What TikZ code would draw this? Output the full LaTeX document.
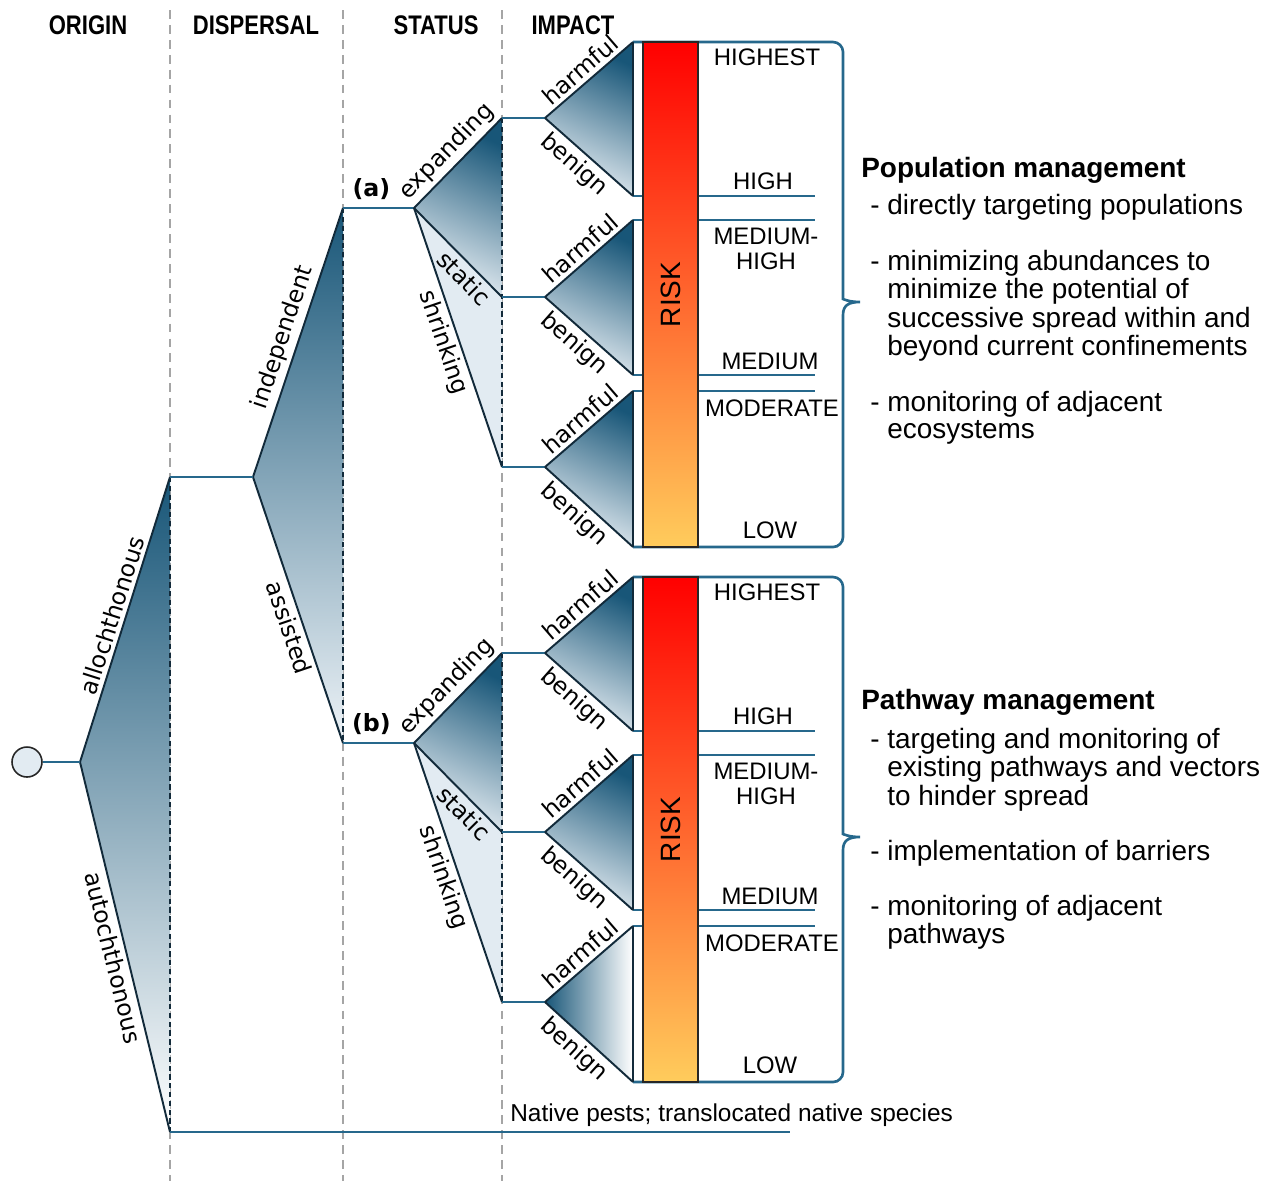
\documentclass[tikz,border=0pt]{standalone}
\usepackage{fontspec}
\setmainfont{Liberation Sans}
\newfontfamily\branchfont{DejaVu Sans}
\newfontfamily\headfont[FakeStretch=0.82]{Liberation Sans}
\usepackage{tikz}
\definecolor{linkblue}{RGB}{38,104,140}
\definecolor{edgenavy}{RGB}{18,42,58}
\definecolor{deepblue}{RGB}{24,86,120}
\definecolor{paleblue}{RGB}{226,235,242}
\definecolor{guidegray}{RGB}{165,165,165}
\definecolor{riskred}{RGB}{255,0,0}
\definecolor{riskorange}{RGB}{255,112,58}
\definecolor{riskyellow}{RGB}{255,204,92}

\begin{document}
\begin{tikzpicture}[
  x=0.02cm, y=-0.02cm,
  every node/.style={inner sep=0pt},
  head_style/.style={font=\headfont\fontsize{15.3}{18}\selectfont\bfseries},
  guide/.style={draw=guidegray, line width=1.2pt, dash pattern=on 5pt off 3.5pt},
  link/.style={draw=linkblue, line width=1.5pt},
  edge/.style={draw=edgenavy, line width=1.1pt},
  cut/.style={draw=edgenavy, line width=0.8pt, dash pattern=on 3pt off 2pt},
  branch_up/.style={sloped, above, inner sep=2pt, font=\branchfont\fontsize{13.4}{16}\selectfont},
  branch_down/.style={sloped, below, inner sep=2pt, font=\branchfont\fontsize{13.4}{16}\selectfont},
  deep_fill/.style={top color=deepblue, bottom color=paleblue!70!white, shading angle=-25},
  flat_fill/.style={left color=deepblue, right color=white},
  risk_bar/.style={rectangle, draw=black!85, line width=0.7pt, minimum width=1.1cm, minimum height=10.1cm, top color=riskred, middle color=riskorange, bottom color=riskyellow},
  risk_label/.style={font=\fontsize{13.6}{14.2}\selectfont, anchor=base},
  tag_style/.style={above, inner sep=4pt, font=\branchfont\fontsize{13.5}{15}\selectfont\bfseries},
  note_head/.style={font=\fontsize{15.9}{16}\selectfont\bfseries, anchor=base west},
  note_item/.style={font=\fontsize{15.9}{15.9}\selectfont, anchor=base west}
]
\useasboundingbox (0,0) rectangle (1270,1181);

% Column guides
\foreach \gx in {170,343,502}
  \draw[guide] (\gx,10) -- (\gx,1181);

% Column heads
\node[head_style] (h_origin) at (88,25) {ORIGIN};
\node[head_style] (h_dispersal) at (256,25) {DISPERSAL};
\node[head_style] (h_status) at (436,25) {STATUS};
\node[head_style] (h_impact) at (573,25) {IMPACT};

% Origin
\node[circle, draw=black!85, line width=0.9pt, fill=paleblue, minimum size=0.6cm] (root) at (27,762) {};
\coordinate (o_apex) at (80,762);
\coordinate (o_top) at (170,477);
\coordinate (o_bot) at (170,1132);
\coordinate (native_end) at (790,1132);
\shade[top color=deepblue, bottom color=white] (o_apex) -- (o_top) -- (o_bot) -- cycle;
\draw[edge] (o_apex) -- node[branch_up] {allochthonous} (o_top);
\draw[edge] (o_apex) -- node[branch_down, pos=0.52] {autochthonous} (o_bot);
\draw[cut] (o_top) -- (o_bot);
\draw[link] (root) -- (o_apex);
\draw[link] (o_bot) -- (native_end);
\node[font=\fontsize{13.9}{16}\selectfont, anchor=base west] (native) at (510,1121) {Native pests; translocated native species};

% Dispersal
\coordinate (d_apex) at (253,477);
\coordinate (d_top) at (343,208);
\coordinate (d_bot) at (343,743);
\shade[top color=deepblue, bottom color=paleblue!60!white] (d_apex) -- (d_top) -- (d_bot) -- cycle;
\draw[edge] (d_apex) -- node[branch_up] {independent} (d_top);
\draw[edge] (d_apex) -- node[branch_down, pos=0.55] {assisted} (d_bot);
\draw[cut] (d_top) -- (d_bot);
\draw[link] (o_top) -- (d_apex);

% Status, impact and risk: block (a), then block (b)
\foreach \yo/\tag/\lastfill in {0/a/deep_fill, 535/b/flat_fill} {
\begin{scope}[shift={(0,\yo)}]
  \coordinate (s_in) at (343,208);
  \coordinate (s_apex) at (414,208);
  \coordinate (s_top) at (502,118);
  \coordinate (s_mid) at (502,297);
  \coordinate (s_bot) at (502,467);
  \draw[link] (s_in) -- node[tag_style, pos=0.4] {(\tag)} (s_apex);
  \shade[deep_fill] (s_apex) -- (s_top) -- (s_mid) -- cycle;
  \fill[paleblue] (s_apex) -- (s_mid) -- (s_bot) -- cycle;
  \draw[edge] (s_apex) -- node[branch_up] {expanding} (s_top);
  \draw[edge] (s_apex) -- node[branch_down, pos=0.68] {static} (s_mid);
  \draw[edge] (s_apex) -- node[branch_down] {shrinking} (s_bot);
  \draw[cut] (s_top) -- (s_bot);

  % frame and level lines, behind the bar
  \draw[link] (633,42) [rounded corners=0.2cm] -- (843,42) -- (843,289) [sharp corners]
     .. controls (843,299) and (849,302) .. (860,302)
     .. controls (849,302) and (843,305) .. (843,315) [rounded corners=0.2cm] -- (843,547) -- (633,547);
  \foreach \ly in {196,220,375,391}
    \draw[link] (633,\ly) -- (815,\ly);

  % impact triangles
  \foreach \ya/\yt/\yb/\fillstyle in {118/42/196/deep_fill, 297/220/375/deep_fill, 467/391/547/\lastfill} {
    \coordinate (i_in) at (502,\ya);
    \coordinate (i_apex) at (545,\ya);
    \coordinate (i_top) at (633,\yt);
    \coordinate (i_bot) at (633,\yb);
    \draw[link] (i_in) -- (i_apex);
    \shade[\fillstyle] (i_apex) -- (i_top) -- (i_bot) -- cycle;
    \draw[edge] (i_apex) -- node[branch_up] {harmful} (i_top);
    \draw[edge] (i_apex) -- node[branch_down, pos=0.45] {benign} (i_bot);
    \draw[edge] (i_top) -- (i_bot);
  }

  % risk bar
  \node[risk_bar] (bar) at (670.5,294.5) {};
  \node[rotate=90, font=\fontsize{15.9}{18}\selectfont] (risk) at (bar.center) {RISK};
  \node[risk_label] (lv_highest) at (767,65.5) {HIGHEST};
  \node[risk_label] (lv_high) at (763,189.5) {HIGH};
  \node[risk_label, anchor=center, align=center] (lv_medhigh) at (766,249) {MEDIUM-\\HIGH};
  \node[risk_label] (lv_medium) at (770,369.5) {MEDIUM};
  \node[risk_label] (lv_moderate) at (772,416) {MODERATE};
  \node[risk_label] (lv_low) at (770,538.5) {LOW};
\end{scope}
}

% Management notes
\node[note_head] (pop_head) at (861,177) {Population management};
\node[note_item] (pop_1) at (870,214) {- directly targeting populations};
\node[note_item] (pop_2) at (870,270) {- \begin{tabular}[t]{@{}l@{}}minimizing abundances to\\minimize the potential of\\successive spread within and\\beyond current confinements\end{tabular}};
\node[note_item] (pop_3) at (870,411) {- \begin{tabular}[t]{@{}l@{}}monitoring of adjacent\\ecosystems\end{tabular}};
\node[note_head] (path_head) at (861,709) {Pathway management};
\node[note_item] (path_1) at (870,748) {- \begin{tabular}[t]{@{}l@{}}targeting and monitoring of\\existing pathways and vectors\\to hinder spread\end{tabular}};
\node[note_item] (path_2) at (870,860) {- implementation of barriers};
\node[note_item] (path_3) at (870,915) {- \begin{tabular}[t]{@{}l@{}}monitoring of adjacent\\pathways\end{tabular}};

\end{tikzpicture}
\end{document}
